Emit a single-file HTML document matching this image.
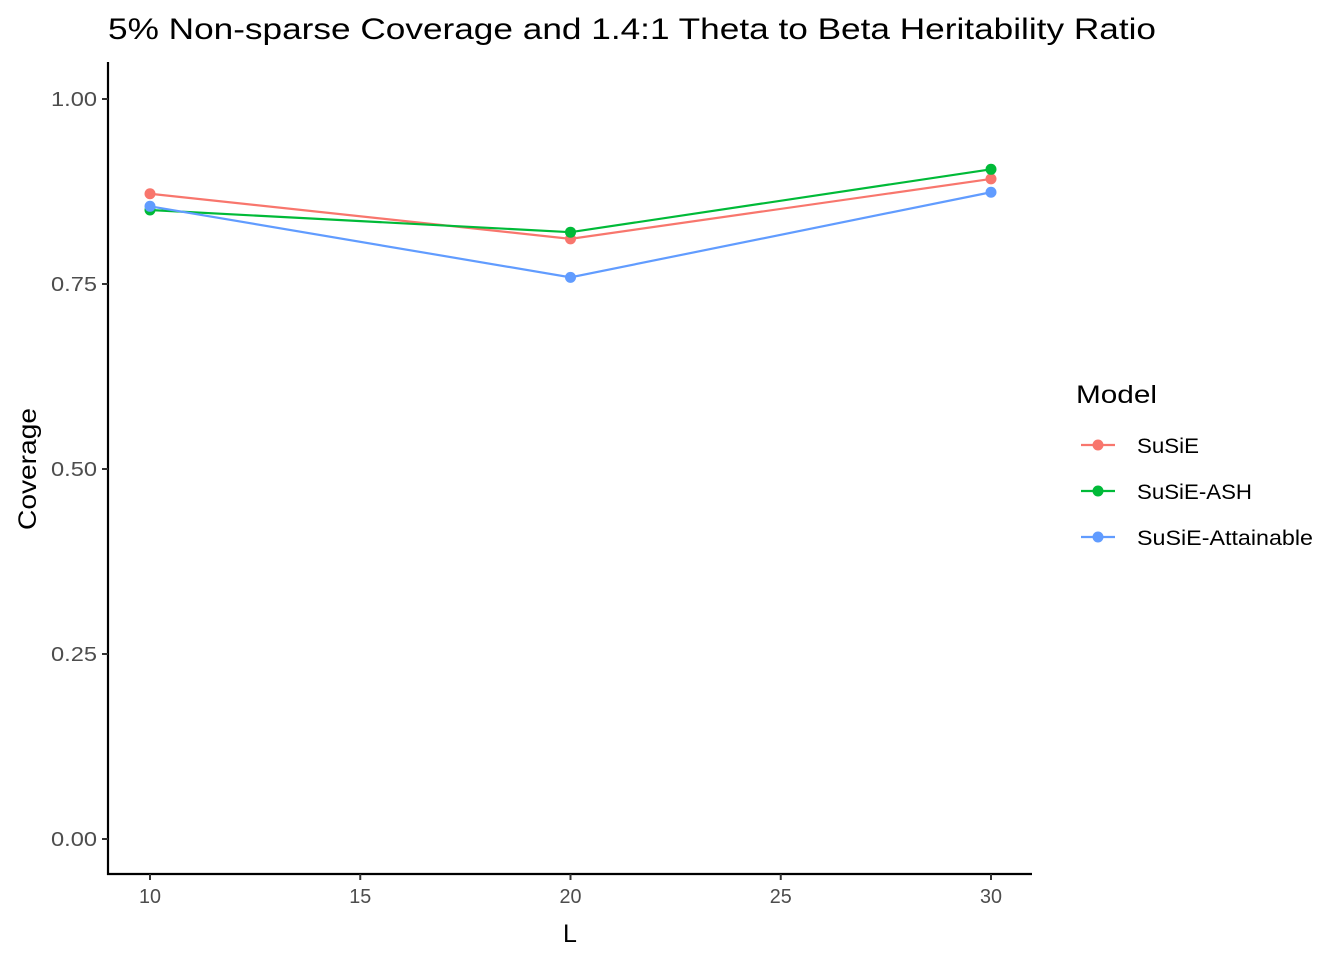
<!DOCTYPE html>
<html><head><meta charset="utf-8"><style>
body{margin:0;background:#fff;}
svg text{font-family:"Liberation Sans",Arial,sans-serif;}
</style></head><body>
<svg id="chart" width="1344" height="960">
<text x="108" y="39" font-size="30" textLength="1048" lengthAdjust="spacingAndGlyphs" fill="#000">5% Non-sparse Coverage and 1.4:1 Theta to Beta Heritability Ratio</text>
<g id="axes"></g>
<g id="series"></g>
<text x="570" y="942" font-size="25" text-anchor="middle" fill="#000">L</text>
<text transform="translate(36,469) rotate(-90)" font-size="25" text-anchor="middle" textLength="122" lengthAdjust="spacingAndGlyphs" fill="#000">Coverage</text>
<g id="legend">
<text x="1076" y="403" font-size="25" textLength="81" lengthAdjust="spacingAndGlyphs" fill="#000">Model</text>
</g>
</svg>
<script>
const categories = [10, 20, 30];
const seriesNames = ["SuSiE", "SuSiE-ASH", "SuSiE-Attainable"];
const seriesColors = ["#F8766D", "#00BA38", "#619CFF"];
const susieValues = [0.872, 0.811, 0.892];
const ashValues = [0.850, 0.820, 0.905];
const attainableValues = [0.855, 0.759, 0.874];
const xTicks = [10, 15, 20, 25, 30];
const yTicks = [0, 0.25, 0.5, 0.75, 1.0];
const yTickLabels = ["0.00", "0.25", "0.50", "0.75", "1.00"];
const legendWidths = [62, 115, 176];

const NS = "http://www.w3.org/2000/svg";
const xs = v => 150 + (v - 10) * 42.05;
const ys = v => 839 - v * 740;
function mk(tag, attrs, parent) {
  const e = document.createElementNS(NS, tag);
  for (const k in attrs) e.setAttribute(k, attrs[k]);
  parent.appendChild(e);
  return e;
}
const axes = document.getElementById("axes");
let l = mk("line", {x1:108, y1:62, x2:108, y2:875, stroke:"#000", "stroke-width":2.2}, axes);


l = mk("line", {x1:107, y1:874, x2:1032, y2:874, stroke:"#000", "stroke-width":2.2}, axes);


yTicks.forEach((v, i) => {
  const t = mk("line", {x1:102, x2:108, y1:ys(v), y2:ys(v), stroke:"#333", "stroke-width":2}, axes);
  
  
  const tx = mk("text", {x:97, y:ys(v)+7, "font-size":20, "text-anchor":"end", textLength:46, lengthAdjust:"spacingAndGlyphs", fill:"#4d4d4d"}, axes);
  tx.textContent = yTickLabels[i];
  
  
});
xTicks.forEach(v => {
  const t = mk("line", {x1:xs(v), x2:xs(v), y1:874, y2:880, stroke:"#333", "stroke-width":2}, axes);
  
  
  const tx = mk("text", {x:xs(v), y:903, "font-size":20, "text-anchor":"middle", textLength:22, lengthAdjust:"spacingAndGlyphs", fill:"#4d4d4d"}, axes);
  tx.textContent = v;
  
  
});
const allSeries = [susieValues, ashValues, attainableValues];
const sg = document.getElementById("series");
allSeries.forEach((vals, s) => {
  const pts = categories.map((c, i) => xs(c) + "," + ys(vals[i])).join(" ");
  const pl = mk("polyline", {points:pts, fill:"none", stroke:seriesColors[s], "stroke-width":2.2}, sg);
  
  
});
allSeries.forEach((vals, s) => {
  categories.forEach((c, i) => {
    const p = mk("circle", {cx:xs(c), cy:ys(vals[i]), r:5.5, fill:seriesColors[s]}, sg);
    
    
  });
});
const lg = document.getElementById("legend");
seriesNames.forEach((n, i) => {
  const y = 445 + i * 46;
  const ln = mk("line", {x1:1081, x2:1115, y1:y, y2:y, stroke:seriesColors[i], "stroke-width":2.2}, lg);
  
  
  const c = mk("circle", {cx:1098, cy:y, r:5.5, fill:seriesColors[i]}, lg);
  
  
  const t = mk("text", {x:1137, y:y+8, "font-size":21, textLength:legendWidths[i], lengthAdjust:"spacingAndGlyphs", fill:"#000"}, lg);
  t.textContent = n;
  
  
});
</script>
</body></html>
